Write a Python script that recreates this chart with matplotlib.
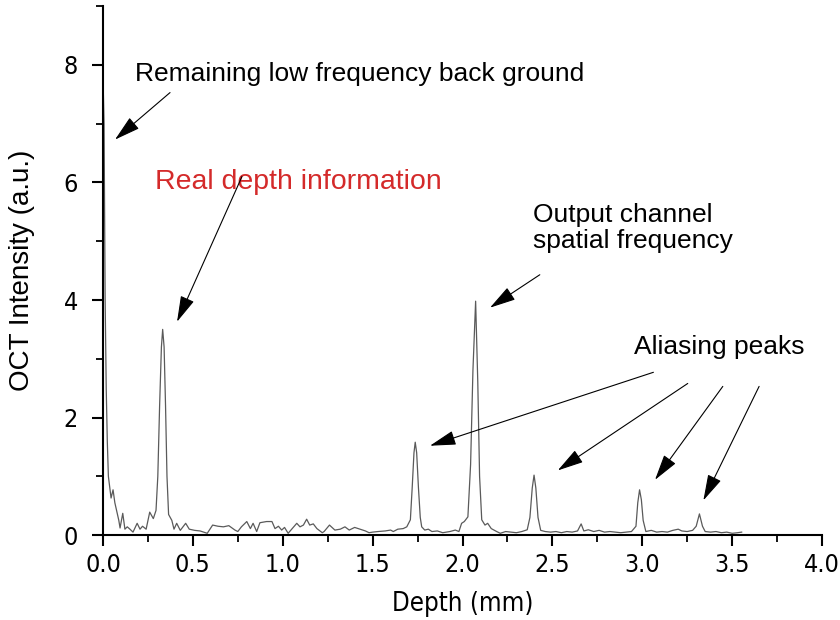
import matplotlib
matplotlib.use("Agg")
import matplotlib.pyplot as plt
from matplotlib import font_manager
from matplotlib.ticker import MultipleLocator

# OCT A-scan values
depth = [0.000, 0.006, 0.012, 0.018, 0.024, 0.030, 0.045, 0.056, 0.066, 0.078,
         0.088, 0.095, 0.110, 0.122, 0.135, 0.150, 0.167, 0.190, 0.206, 0.220,
         0.240, 0.260, 0.280, 0.295, 0.305, 0.315, 0.325, 0.332, 0.340, 0.348,
         0.356, 0.365, 0.383, 0.395, 0.410, 0.430, 0.460, 0.480, 0.510, 0.540,
         0.580, 0.610, 0.640, 0.670, 0.700, 0.734, 0.750, 0.770, 0.800, 0.820,
         0.835, 0.855, 0.873, 0.910, 0.940, 0.957, 0.976, 0.994, 1.010, 1.030,
         1.050, 1.078, 1.096, 1.115, 1.133, 1.150, 1.170, 1.190, 1.220, 1.230,
         1.260, 1.290, 1.320, 1.346, 1.370, 1.400, 1.430, 1.460, 1.480, 1.500,
         1.530, 1.570, 1.600, 1.615, 1.640, 1.670, 1.690, 1.710, 1.720, 1.730,
         1.737, 1.745, 1.755, 1.765, 1.773, 1.790, 1.810, 1.830, 1.860, 1.890,
         1.930, 1.960, 1.980, 1.995, 2.010, 2.030, 2.045, 2.058, 2.073, 2.085,
         2.095, 2.107, 2.125, 2.140, 2.160, 2.190, 2.210, 2.240, 2.270, 2.300,
         2.330, 2.360, 2.375, 2.388, 2.398, 2.408, 2.420, 2.435, 2.460, 2.490,
         2.520, 2.550, 2.580, 2.610, 2.640, 2.660, 2.675, 2.700, 2.730, 2.760,
         2.790, 2.820, 2.850, 2.880, 2.910, 2.940, 2.965, 2.975, 2.985, 2.995,
         3.005, 3.020, 3.050, 3.080, 3.110, 3.140, 3.170, 3.200, 3.220, 3.250,
         3.280, 3.300, 3.318, 3.335, 3.350, 3.380, 3.410, 3.440, 3.470, 3.500,
         3.530, 3.553]
intensity = [7.80, 7.00, 4.00, 2.50, 1.60, 1.00, 0.63, 0.77, 0.55, 0.39,
             0.25, 0.12, 0.37, 0.10, 0.14, 0.10, 0.05, 0.20, 0.10, 0.15,
             0.10, 0.39, 0.28, 0.42, 1.00, 2.20, 3.20, 3.50, 3.20, 2.20,
             1.00, 0.35, 0.25, 0.10, 0.20, 0.08, 0.20, 0.10, 0.08, 0.07,
             0.03, 0.17, 0.15, 0.14, 0.16, 0.085, 0.06, 0.14, 0.23, 0.11,
             0.20, 0.06, 0.21, 0.23, 0.23, 0.11, 0.15, 0.085, 0.13, 0.03,
             0.10, 0.20, 0.14, 0.17, 0.27, 0.17, 0.19, 0.11, 0.04, 0.06,
             0.17, 0.085, 0.10, 0.14, 0.085, 0.13, 0.10, 0.07, 0.04, 0.05,
             0.06, 0.07, 0.085, 0.06, 0.10, 0.11, 0.14, 0.26, 0.80, 1.40,
             1.58, 1.40, 0.80, 0.30, 0.14, 0.085, 0.10, 0.06, 0.07, 0.04,
             0.06, 0.085, 0.06, 0.20, 0.23, 0.31, 1.20, 2.80, 3.98, 2.60,
             1.00, 0.26, 0.17, 0.20, 0.11, 0.06, 0.03, 0.06, 0.05, 0.04,
             0.06, 0.09, 0.30, 0.80, 1.02, 0.80, 0.30, 0.08, 0.06, 0.05,
             0.06, 0.04, 0.06, 0.05, 0.07, 0.19, 0.07, 0.09, 0.06, 0.08,
             0.05, 0.06, 0.05, 0.04, 0.05, 0.06, 0.15, 0.55, 0.77, 0.60,
             0.25, 0.06, 0.08, 0.05, 0.06, 0.05, 0.08, 0.10, 0.07, 0.06,
             0.08, 0.15, 0.36, 0.15, 0.06, 0.05, 0.06, 0.04, 0.05, 0.03,
             0.04, 0.05]

# arrow tails and heads for "Aliasing peaks"
alias_tails = [(3.062, 2.77), (3.253, 2.58), (3.448, 2.53), (3.650, 2.53)]
alias_heads = [(1.819, 1.52), (2.530, 1.10), (3.071, 0.94), (3.340, 0.59)]

plt.rcParams['font.family'] = ['Liberation Sans', 'DejaVu Sans']

# tick numbers in the original are set in a narrow face; use a regular one if present
narrow = None
for f in font_manager.fontManager.ttflist:
    tag = (f.name + ' ' + f.fname).lower()
    is_narrow = 'narrow' in tag or 'condensed' in tag or f.stretch in ('condensed', 'semi-condensed')
    is_plain = f.style == 'normal' and f.weight in (400, 'normal', 'regular', 'book') \
        and 'bold' not in tag and 'oblique' not in tag and 'italic' not in tag
    if is_narrow and is_plain:
        narrow = f.fname
        break
if narrow:
    num_font = font_manager.FontProperties(fname=narrow, size=18)
    xlab_font = font_manager.FontProperties(fname=narrow, size=18.5)
else:
    num_font = font_manager.FontProperties(family='Liberation Sans', size=16)
    xlab_font = font_manager.FontProperties(family='Liberation Sans', size=17)

fig = plt.figure(figsize=(8.4, 6.2), dpi=100)
ax = fig.add_axes([0.1226, 0.137, 0.856, 0.853])

ax.plot(depth, intensity, color='#5a5a5a', lw=0.9)

ax.set_xlim(0, 4.0)
ax.set_ylim(0, 9)
ax.xaxis.set_minor_locator(MultipleLocator(0.25))
ax.yaxis.set_major_locator(MultipleLocator(2))
ax.yaxis.set_minor_locator(MultipleLocator(1))
ax.set_xticks([0, 0.5, 1.0, 1.5, 2.0, 2.5, 3.0, 3.5, 4.0])
ax.set_xticklabels(['0.0', '0.5', '1.0', '1.5', '2.0', '2.5', '3.0', '3.5', '4.0'])

for s in ['top', 'right']:
    ax.spines[s].set_visible(False)
for s in ['left', 'bottom']:
    ax.spines[s].set_linewidth(1.5)
ax.tick_params(which='major', direction='out', length=8, width=1.5, pad=5)
ax.tick_params(which='minor', direction='out', length=5, width=1.3)
ax.tick_params(axis='y', which='major', pad=10)
for lab in ax.get_xticklabels() + ax.get_yticklabels():
    lab.set_fontproperties(num_font)

ax.set_xlabel('Depth (mm)', fontproperties=xlab_font)
ax.xaxis.set_label_coords(0.5, -0.105)
ax.set_ylabel('OCT Intensity (a.u.)', fontsize=20)
ax.yaxis.set_label_coords(-0.095, 0.5)

arrow = dict(arrowstyle='-|>,head_length=0.9,head_width=0.25', color='black',
             lw=0.8, mutation_scale=18, shrinkA=0, shrinkB=0)

ax.text(0.18, 7.84, 'Remaining low frequency back ground', fontsize=19, va='center')
ax.annotate('', xy=(0.067, 6.73), xytext=(0.373, 7.53), arrowprops=arrow)

ax.text(0.29, 6.0, 'Real depth information', fontsize=20.5, color='#d42a2a', va='center')
ax.annotate('', xy=(0.412, 3.63), xytext=(0.773, 6.10), arrowprops=arrow)

ax.text(2.39, 5.23, 'Output channel\nspatial frequency', fontsize=19, va='center',
        linespacing=1.1)
ax.annotate('', xy=(2.153, 3.87), xytext=(2.43, 4.43), arrowprops=arrow)

ax.text(2.955, 3.2, 'Aliasing peaks', fontsize=19, va='center')
for tail, head in zip(alias_tails, alias_heads):
    ax.annotate('', xy=head, xytext=tail, arrowprops=arrow)

fig.savefig('out.png', dpi=100)
